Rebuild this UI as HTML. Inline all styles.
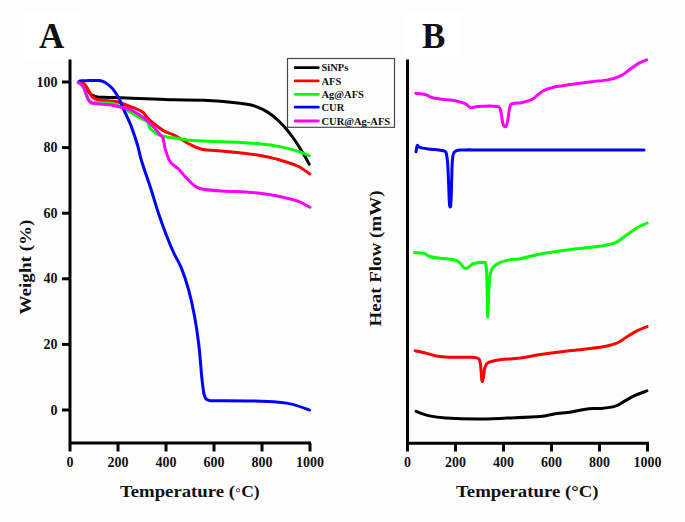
<!DOCTYPE html>
<html><head><meta charset="utf-8"><style>
html,body{margin:0;padding:0;background:#fdfdfd;}
body{width:685px;height:522px;overflow:hidden;}
svg{display:block;}
</style></head><body>
<svg width="685" height="522" viewBox="0 0 685 522">
<rect width="685" height="522" fill="#fdfdfd"/>
<rect x="23" y="11.5" width="58" height="47" fill="#fff"/>
<rect x="405" y="11.5" width="57" height="44" fill="#fff"/>
<g stroke="#000" stroke-width="3" fill="none" stroke-linecap="butt">
<path d="M70,59.5 V451.5 M68.5,443 H311"/>
<path d="M118,443 V451.5"/>
<path d="M166,443 V451.5"/>
<path d="M214,443 V451.5"/>
<path d="M262,443 V451.5"/>
<path d="M310,443 V451.5"/>
<path d="M62,410.0 H70"/>
<path d="M62,344.4 H70"/>
<path d="M62,278.8 H70"/>
<path d="M62,213.2 H70"/>
<path d="M62,147.6 H70"/>
<path d="M62,82.0 H70"/>
<path d="M407.5,59.5 V451.5 M406,443.3 H649"/>
<path d="M455.5,443.3 V451.5"/>
<path d="M503.5,443.3 V451.5"/>
<path d="M551.5,443.3 V451.5"/>
<path d="M599.5,443.3 V451.5"/>
<path d="M647.5,443.3 V451.5"/>
</g>
<g fill="none" stroke-width="3.0" stroke-linejoin="round" stroke-linecap="round">
<path stroke="#000" d="M78.50,82.30 C79.00,82.35 80.50,82.07 81.50,82.60 C82.50,83.13 83.50,84.27 84.50,85.50 C85.50,86.73 86.58,88.67 87.50,90.00 C88.42,91.33 89.18,92.60 90.00,93.50 C90.82,94.40 91.18,94.83 92.40,95.40 C93.62,95.97 95.37,96.58 97.30,96.90 C99.23,97.22 101.05,97.18 104.00,97.30 C106.95,97.42 110.33,97.45 115.00,97.60 C119.67,97.75 124.50,97.92 132.00,98.20 C139.50,98.48 152.83,99.03 160.00,99.30 C167.17,99.57 167.70,99.65 175.00,99.80 C182.30,99.95 195.35,99.88 203.80,100.20 C212.25,100.52 219.67,101.20 225.70,101.70 C231.73,102.20 235.95,102.68 240.00,103.20 C244.05,103.72 247.50,104.30 250.00,104.80 C252.50,105.30 253.33,105.65 255.00,106.20 C256.67,106.75 258.33,107.37 260.00,108.10 C261.67,108.83 263.33,109.67 265.00,110.60 C266.67,111.53 268.33,112.53 270.00,113.70 C271.67,114.87 273.33,116.18 275.00,117.60 C276.67,119.02 278.33,120.55 280.00,122.20 C281.67,123.85 283.33,125.60 285.00,127.50 C286.67,129.40 288.33,131.43 290.00,133.60 C291.67,135.77 293.33,138.07 295.00,140.50 C296.67,142.93 298.33,145.52 300.00,148.20 C301.67,150.88 303.47,153.93 305.00,156.60 C306.53,159.27 308.50,162.93 309.20,164.20"/>
<path stroke="#f00" d="M78.30,82.30 C78.92,82.30 80.88,81.92 82.00,82.30 C83.12,82.68 83.98,83.40 85.00,84.60 C86.02,85.80 87.17,87.87 88.10,89.50 C89.03,91.13 89.78,93.07 90.60,94.40 C91.42,95.73 91.88,96.63 93.00,97.50 C94.12,98.37 95.47,99.10 97.30,99.60 C99.13,100.10 101.65,100.27 104.00,100.50 C106.35,100.73 109.00,100.72 111.40,101.00 C113.80,101.28 115.72,101.45 118.40,102.20 C121.08,102.95 123.92,104.15 127.50,105.50 C131.08,106.85 137.18,109.02 139.90,110.30 C142.62,111.58 142.52,111.92 143.80,113.20 C145.08,114.48 145.68,116.08 147.60,118.00 C149.52,119.92 152.42,122.47 155.30,124.70 C158.18,126.93 161.62,129.58 164.90,131.40 C168.18,133.22 170.95,133.50 175.00,135.60 C179.05,137.70 184.75,141.73 189.20,144.00 C193.65,146.27 195.62,147.95 201.70,149.20 C207.78,150.45 215.98,150.47 225.70,151.50 C235.42,152.53 251.38,154.10 260.00,155.40 C268.62,156.70 271.17,157.53 277.40,159.30 C283.63,161.07 292.00,163.55 297.40,166.00 C302.80,168.45 307.73,172.67 309.80,174.00"/>
<path stroke="#0f0" d="M78.30,82.50 C78.67,82.72 79.58,82.88 80.50,83.80 C81.42,84.72 82.88,86.30 83.80,88.00 C84.72,89.70 85.32,92.20 86.00,94.00 C86.68,95.80 87.17,97.55 87.90,98.80 C88.63,100.05 89.38,100.87 90.40,101.50 C91.42,102.13 91.73,102.38 94.00,102.60 C96.27,102.82 101.10,102.65 104.00,102.80 C106.90,102.95 109.57,103.28 111.40,103.50 C113.23,103.72 112.00,102.72 115.00,104.10 C118.00,105.48 125.40,109.57 129.40,111.80 C133.40,114.03 135.97,115.83 139.00,117.50 C142.03,119.17 145.85,120.12 147.60,121.80 C149.35,123.48 148.22,125.75 149.50,127.60 C150.78,129.45 153.07,131.47 155.30,132.90 C157.53,134.33 159.62,135.35 162.90,136.20 C166.18,137.05 170.48,137.33 175.00,138.00 C179.52,138.67 184.58,139.65 190.00,140.20 C195.42,140.75 199.17,140.93 207.50,141.30 C215.83,141.67 231.25,141.98 240.00,142.40 C248.75,142.82 253.77,143.18 260.00,143.80 C266.23,144.42 271.17,144.88 277.40,146.10 C283.63,147.32 292.08,149.48 297.40,151.10 C302.72,152.72 307.32,155.02 309.30,155.80"/>
<path stroke="#00f" d="M78.90,81.80 C79.32,81.63 79.67,81.00 81.40,80.80 C83.13,80.60 86.45,80.67 89.30,80.60 C92.15,80.53 96.33,80.32 98.50,80.40 C100.67,80.48 100.97,80.60 102.30,81.10 C103.63,81.60 104.90,82.23 106.50,83.40 C108.10,84.57 110.23,86.30 111.90,88.10 C113.57,89.90 115.10,92.03 116.50,94.20 C117.90,96.37 119.03,98.42 120.30,101.10 C121.57,103.78 122.27,106.05 124.10,110.30 C125.93,114.55 129.07,120.82 131.30,126.60 C133.53,132.38 135.80,139.32 137.50,145.00 C139.20,150.68 139.30,153.50 141.50,160.70 C143.70,167.90 147.90,179.52 150.70,188.20 C153.50,196.88 155.75,205.13 158.30,212.80 C160.85,220.47 163.45,227.57 166.00,234.20 C168.55,240.83 171.05,246.98 173.60,252.60 C176.15,258.22 178.78,261.65 181.30,267.90 C183.82,274.15 186.50,282.08 188.70,290.10 C190.90,298.12 192.82,306.88 194.50,316.00 C196.18,325.12 197.60,334.72 198.80,344.80 C200.00,354.88 200.95,368.97 201.70,376.50 C202.45,384.03 202.83,386.78 203.30,390.00 C203.77,393.22 204.00,394.27 204.50,395.80 C205.00,397.33 205.47,398.42 206.30,399.20 C207.13,399.98 208.05,400.25 209.50,400.50 C210.95,400.75 207.83,400.62 215.00,400.70 C222.17,400.78 241.87,400.73 252.50,401.00 C263.13,401.27 272.08,401.73 278.80,402.30 C285.52,402.87 287.68,403.10 292.80,404.40 C297.92,405.70 306.72,409.15 309.50,410.10"/>
<path stroke="#f0f" d="M78.30,82.60 C78.70,82.83 79.73,83.05 80.70,84.00 C81.67,84.95 83.17,86.57 84.10,88.30 C85.03,90.03 85.63,92.57 86.30,94.40 C86.97,96.23 87.38,97.97 88.10,99.30 C88.82,100.63 89.58,101.68 90.60,102.40 C91.62,103.12 91.97,103.28 94.20,103.60 C96.43,103.92 101.13,104.07 104.00,104.30 C106.87,104.53 109.57,104.75 111.40,105.00 C113.23,105.25 113.40,105.43 115.00,105.80 C116.60,106.17 119.08,106.80 121.00,107.20 C122.92,107.60 124.30,107.43 126.50,108.20 C128.70,108.97 131.32,110.17 134.20,111.80 C137.08,113.43 140.93,115.85 143.80,118.00 C146.67,120.15 148.85,122.13 151.40,124.70 C153.95,127.27 157.18,131.17 159.10,133.40 C161.02,135.63 161.87,135.47 162.90,138.10 C163.93,140.73 164.10,145.28 165.30,149.20 C166.50,153.12 167.87,158.25 170.10,161.60 C172.33,164.95 175.67,166.27 178.70,169.30 C181.73,172.33 184.78,176.60 188.30,179.80 C191.82,183.00 193.40,186.58 199.80,188.50 C206.20,190.42 220.00,190.77 226.70,191.30 C233.40,191.83 234.45,191.38 240.00,191.70 C245.55,192.02 253.77,192.48 260.00,193.20 C266.23,193.92 271.17,194.70 277.40,196.00 C283.63,197.30 292.00,199.13 297.40,201.00 C302.80,202.87 307.73,206.17 309.80,207.20"/>
<path stroke="#f0f" d="M415.80,93.20 C417.35,93.42 422.33,93.73 425.10,94.50 C427.87,95.27 429.67,97.02 432.40,97.80 C435.13,98.58 437.55,98.68 441.50,99.20 C445.45,99.72 452.15,100.17 456.10,100.90 C460.05,101.63 462.77,102.48 465.20,103.60 C467.63,104.72 468.57,107.13 470.70,107.60 C472.83,108.07 473.70,106.60 478.00,106.40 C482.30,106.20 492.78,105.92 496.50,106.40 C500.22,106.88 499.25,106.50 500.30,109.30 C501.35,112.10 502.15,120.37 502.80,123.20 C503.45,126.03 503.63,125.82 504.20,126.30 C504.77,126.78 505.62,127.03 506.20,126.10 C506.78,125.17 507.03,124.10 507.70,120.70 C508.37,117.30 509.07,108.60 510.20,105.70 C511.33,102.80 512.57,103.80 514.50,103.30 C516.43,102.80 518.83,103.37 521.80,102.70 C524.77,102.03 528.85,101.22 532.30,99.30 C535.75,97.38 539.10,93.17 542.50,91.20 C545.90,89.23 547.93,88.63 552.70,87.50 C557.47,86.37 564.63,85.35 571.10,84.40 C577.57,83.45 585.37,82.55 591.50,81.80 C597.63,81.05 603.13,80.83 607.90,79.90 C612.67,78.97 616.35,78.00 620.10,76.20 C623.85,74.40 627.33,71.23 630.40,69.10 C633.47,66.97 635.78,64.93 638.50,63.40 C641.22,61.87 645.33,60.48 646.70,59.90"/>
<path stroke="#00f" d="M416.00,151.80 C416.22,150.75 416.70,146.23 417.30,145.50 C417.90,144.77 417.82,146.83 419.60,147.40 C421.38,147.97 424.05,148.35 428.00,148.90 C431.95,149.45 440.27,149.98 443.30,150.70 C446.33,151.42 445.48,151.20 446.20,153.20 C446.92,155.20 447.23,158.45 447.60,162.70 C447.97,166.95 448.15,173.03 448.40,178.70 C448.65,184.37 448.90,192.23 449.10,196.70 C449.30,201.17 449.35,203.97 449.60,205.50 C449.85,207.03 450.33,207.37 450.60,205.90 C450.87,204.43 451.02,201.23 451.20,196.70 C451.38,192.17 451.53,184.20 451.70,178.70 C451.87,173.20 451.93,167.80 452.20,163.70 C452.47,159.60 452.58,156.27 453.30,154.10 C454.02,151.93 455.05,151.40 456.50,150.70 C457.95,150.00 459.75,150.07 462.00,149.90 C464.25,149.73 466.17,149.70 470.00,149.70 C473.83,149.70 456.00,149.87 485.00,149.90 C514.00,149.93 617.50,149.90 644.00,149.90"/>
<path stroke="#0f0" d="M414.60,252.60 C416.22,252.72 421.82,252.65 424.30,253.30 C426.78,253.95 426.88,255.68 429.50,256.50 C432.12,257.32 435.62,257.57 440.00,258.20 C444.38,258.83 452.22,259.18 455.80,260.30 C459.38,261.42 460.08,263.60 461.50,264.90 C462.92,266.20 463.45,267.50 464.30,268.10 C465.15,268.70 465.77,268.75 466.60,268.50 C467.43,268.25 468.18,267.38 469.30,266.60 C470.42,265.82 471.17,264.47 473.30,263.80 C475.43,263.13 480.00,262.50 482.10,262.60 C484.20,262.70 485.08,260.75 485.90,264.40 C486.72,268.05 486.70,275.75 487.00,284.50 C487.30,293.25 487.42,315.43 487.70,316.90 C487.98,318.37 488.32,300.17 488.70,293.30 C489.08,286.43 489.35,279.93 490.00,275.70 C490.65,271.47 491.00,270.08 492.60,267.90 C494.20,265.72 496.68,263.98 499.60,262.60 C502.52,261.22 506.70,260.25 510.10,259.60 C513.50,258.95 514.95,259.63 520.00,258.70 C525.05,257.77 531.88,255.53 540.40,254.00 C548.92,252.47 560.88,250.85 571.10,249.50 C581.32,248.15 594.20,247.08 601.70,245.90 C609.20,244.72 612.00,244.18 616.10,242.40 C620.20,240.62 622.90,237.58 626.30,235.20 C629.70,232.82 633.03,230.13 636.50,228.10 C639.97,226.07 645.33,223.85 647.10,223.00"/>
<path stroke="#f00" d="M415.20,350.80 C417.00,351.18 422.45,352.22 426.00,353.10 C429.55,353.98 432.70,355.40 436.50,356.10 C440.30,356.80 443.83,357.10 448.80,357.30 C453.77,357.50 461.63,357.20 466.30,357.30 C470.97,357.40 474.48,357.00 476.80,357.90 C479.12,358.80 479.35,358.93 480.20,362.70 C481.05,366.47 481.37,378.00 481.90,380.50 C482.43,383.00 482.95,379.67 483.40,377.70 C483.85,375.73 484.08,370.95 484.60,368.70 C485.12,366.45 485.63,365.32 486.50,364.20 C487.37,363.08 487.32,362.77 489.80,362.00 C492.28,361.23 496.37,360.25 501.40,359.60 C506.43,358.95 513.50,358.93 520.00,358.10 C526.50,357.27 531.88,355.85 540.40,354.60 C548.92,353.35 560.88,351.85 571.10,350.60 C581.32,349.35 594.20,348.30 601.70,347.10 C609.20,345.90 612.00,345.03 616.10,343.40 C620.20,341.77 622.90,339.35 626.30,337.30 C629.70,335.25 633.03,332.88 636.50,331.10 C639.97,329.32 645.33,327.35 647.10,326.60"/>
<path stroke="#000" d="M416.00,411.40 C418.25,412.15 424.52,414.78 429.50,415.90 C434.48,417.02 438.07,417.57 445.90,418.10 C453.73,418.63 466.28,419.10 476.50,419.10 C486.72,419.10 496.62,418.52 507.20,418.10 C517.78,417.68 532.20,417.28 540.00,416.60 C547.80,415.92 548.75,414.78 554.00,414.00 C559.25,413.22 565.67,412.78 571.50,411.90 C577.33,411.02 584.03,409.28 589.00,408.70 C593.97,408.12 596.92,408.83 601.30,408.40 C605.68,407.97 611.50,407.27 615.30,406.10 C619.10,404.93 620.88,403.15 624.10,401.40 C627.32,399.65 630.80,397.35 634.60,395.60 C638.40,393.85 644.85,391.68 646.90,390.90"/>
</g>
<rect x="287.5" y="58.5" width="107" height="68.8" fill="#fdfdfd" stroke="#4a4a4a" stroke-width="1.2"/>
<g stroke-width="2.8" stroke-linecap="round">
<path stroke="#000" d="M295.2,67.7 H318.3"/>
<path stroke="#f00" d="M295.2,80.9 H318.3"/>
<path stroke="#0f0" d="M295.2,94.3 H318.3"/>
<path stroke="#00f" d="M295.2,107.2 H318.3"/>
<path stroke="#f0f" d="M295.2,121 H318.3"/>
</g>
<g font-family="Liberation Serif, serif" font-weight="bold" font-size="10.5" fill="#111">
<text x="321.5" y="71.3">SiNPs</text>
<text x="321.5" y="84.5">AFS</text>
<text x="321.5" y="97.9">Ag@AFS</text>
<text x="321.5" y="110.8">CUR</text>
<text x="321.5" y="124.6">CUR@Ag-AFS</text>
</g>
<g font-family="Liberation Serif, serif" font-weight="bold" font-size="14" fill="#111">
<text x="57.5" y="414.5" text-anchor="end">0</text>
<text x="57.5" y="348.9" text-anchor="end">20</text>
<text x="57.5" y="283.3" text-anchor="end">40</text>
<text x="57.5" y="217.7" text-anchor="end">60</text>
<text x="57.5" y="152.1" text-anchor="end">80</text>
<text x="57.5" y="86.5" text-anchor="end">100</text>
<text x="70" y="467.3" text-anchor="middle">0</text>
<text x="407.5" y="467.3" text-anchor="middle">0</text>
<text x="118" y="467.3" text-anchor="middle">200</text>
<text x="455.5" y="467.3" text-anchor="middle">200</text>
<text x="166" y="467.3" text-anchor="middle">400</text>
<text x="503.5" y="467.3" text-anchor="middle">400</text>
<text x="214" y="467.3" text-anchor="middle">600</text>
<text x="551.5" y="467.3" text-anchor="middle">600</text>
<text x="262" y="467.3" text-anchor="middle">800</text>
<text x="599.5" y="467.3" text-anchor="middle">800</text>
<text x="310" y="467.3" text-anchor="middle">1000</text>
<text x="647.5" y="467.3" text-anchor="middle">1000</text>
</g>
<g font-family="Liberation Serif, serif" font-weight="bold" fill="#111">
<text x="39" y="48.4" font-size="35">A</text>
<text x="422" y="48.3" font-size="35">B</text>
<text x="120" y="497" font-size="17.5" textLength="115" lengthAdjust="spacingAndGlyphs">Temperature (</text>
<text x="241.2" y="497" font-size="17.5" textLength="18.5" lengthAdjust="spacingAndGlyphs">C)</text>
<circle cx="238" cy="490.3" r="1.7" fill="none" stroke="#444" stroke-width="1"/>
<text x="456" y="497" font-size="17.5" textLength="142.5" lengthAdjust="spacingAndGlyphs">Temperature (&#176;C)</text>
<text transform="translate(31.3,314.5) rotate(-90)" font-size="17" textLength="95" lengthAdjust="spacingAndGlyphs">Weight (%)</text>
<text transform="translate(381.3,326.5) rotate(-90)" font-size="16.5" textLength="136" lengthAdjust="spacingAndGlyphs">Heat Flow (mW)</text>
</g>
</svg>
</body></html>
